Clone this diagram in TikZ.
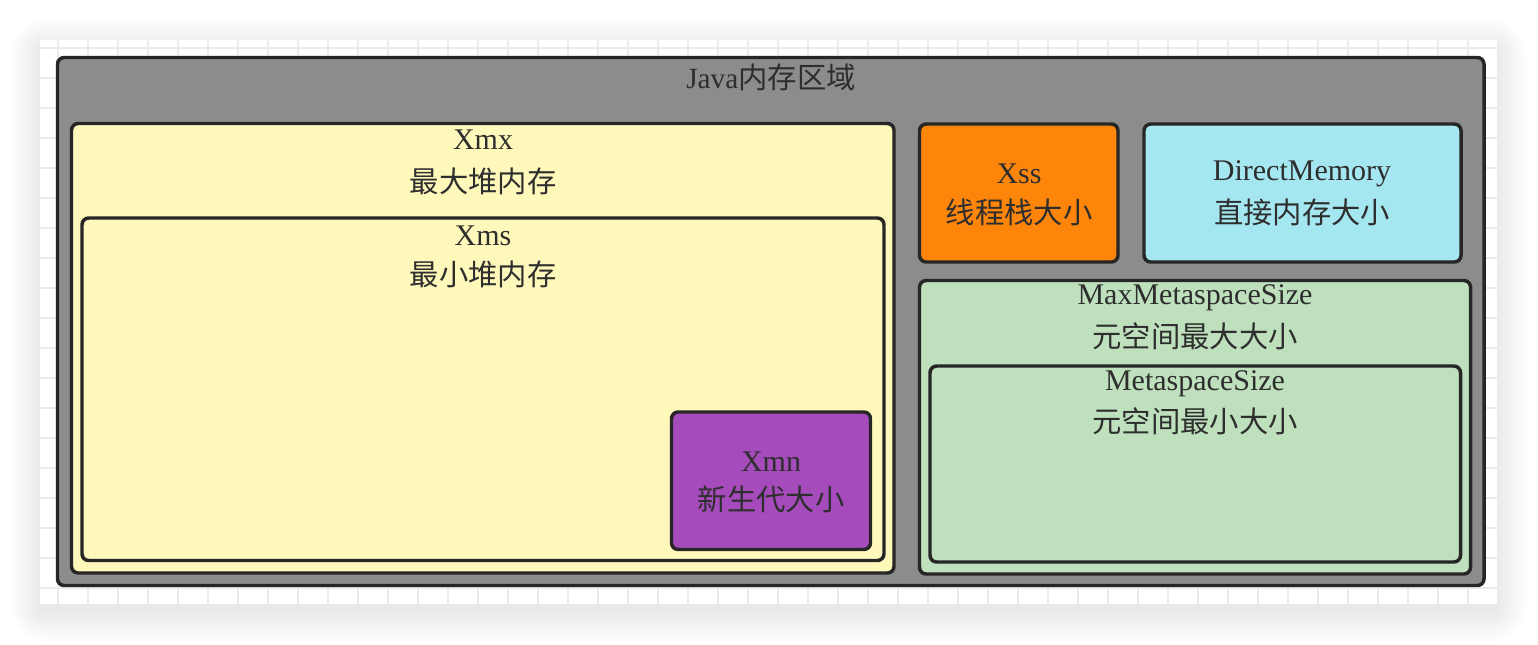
\documentclass[tikz,border=0pt]{standalone}
\usepackage{fontspec}
\setmainfont{Liberation Serif}
\newfontfamily\cjk{Noto Sans CJK SC}
\usetikzlibrary{fit}
\definecolor{strokec}{HTML}{262626}
\definecolor{grayfill}{HTML}{8C8C8C}
\definecolor{yellowfill}{HTML}{FEF9BB}
\definecolor{purplefill}{HTML}{A64BBB}
\definecolor{orangefill}{HTML}{FD860A}
\definecolor{cyanfill}{HTML}{A5E7F0}
\definecolor{greenfill}{HTML}{BEE0BD}
\definecolor{textc}{HTML}{2E2E2E}
\definecolor{gridc}{HTML}{EBEBEB}
\tikzset{
  box/.style={draw=strokec, line width=2.6pt, rounded corners=5pt, inner sep=0pt},
  lbl/.style={text=textc, inner sep=0pt, font=\fontsize{22.5}{26}\selectfont},
  clbl/.style={text=textc, inner sep=0pt, font=\fontsize{22}{26}\selectfont\cjk},
}
\begin{document}
\begin{tikzpicture}[x=0.75pt,y=-0.75pt]
\useasboundingbox (0,0) rectangle (1538,644);
\fill[white] (0,0) rectangle (1538,644);
% soft shadow
\foreach \d in {30,27,...,0}{
  \fill[black,opacity=0.009,rounded corners=\d pt] (40-\d,40-\d+8) rectangle (1497+\d,604+\d+8);
}
\fill[white] (40,40) rectangle (1497,604);
\begin{scope}
\clip (40,40) rectangle (1497,604);
\foreach \xx in {58,88,...,1500}{\draw[gridc,line width=0.8pt] (\xx,40) -- (\xx,604);}
\foreach \yy in {48,78,...,604}{\draw[gridc,line width=0.8pt] (40,\yy) -- (1497,\yy);}
\end{scope}

\node[box, fill=grayfill, fit={(57.5,57.5) (1484,585.5)}] (java) {};
\node[clbl] (javaT) at (771,77) {{\rmfamily Java}内存区域};

\node[box, fill=yellowfill, fit={(71.5,123.5) (894,573)}] (xmx) {};
\node[lbl] (xmxA) at (483,140) {Xmx};
\node[clbl] (xmxB) at (483,181) {最大堆内存};

\node[box, fill=yellowfill, fit={(82,218) (884,560.5)}] (xms) {};
\node[lbl] (xmsA) at (483,236) {Xms};
\node[clbl] (xmsB) at (483,274) {最小堆内存};

\node[box, fill=purplefill, fit={(671.5,412) (870.5,549.5)}] (xmn) {};
\node[lbl] (xmnA) at (771,462) {Xmn};
\node[clbl] (xmnB) at (771,499) {新生代大小};

\node[box, fill=orangefill, fit={(919.5,124) (1118,262)}] (xss) {};
\node[lbl] (xssA) at (1019,174) {Xss};
\node[clbl] (xssB) at (1019,212) {线程栈大小};

\node[box, fill=cyanfill, fit={(1144,124) (1461,262)}] (dm) {};
\node[lbl] (dmA) at (1302,174) {DirectMemory};
\node[clbl] (dmB) at (1302,212) {直接内存大小};

\node[box, fill=greenfill, fit={(919.5,280.5) (1470.5,574)}] (maxmeta) {};
\node[lbl] (maxmetaA) at (1195,298) {MaxMetaspaceSize};
\node[clbl] (maxmetaB) at (1195,336) {元空间最大大小};

\node[box, fill=greenfill, fit={(930,366) (1460.5,562)}] (meta) {};
\node[lbl] (metaA) at (1195,384) {MetaspaceSize};
\node[clbl] (metaB) at (1195,421) {元空间最小大小};
\end{tikzpicture}
\end{document}
